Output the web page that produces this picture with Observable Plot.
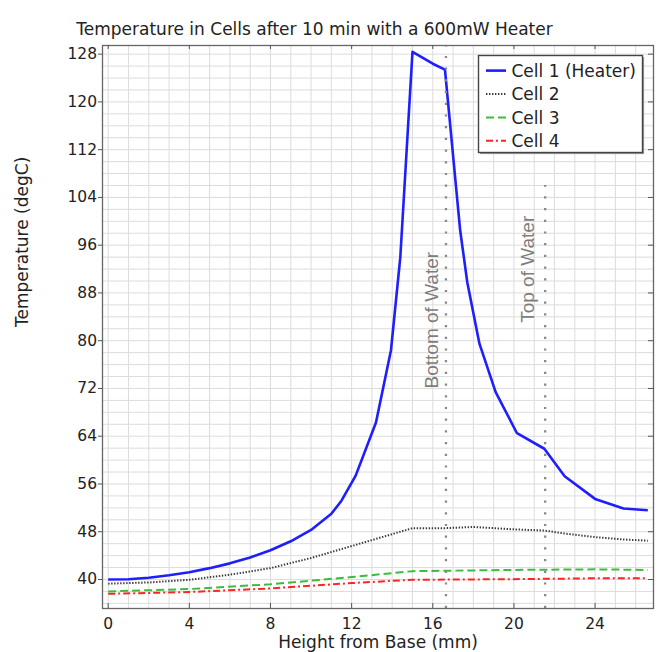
<!DOCTYPE html>
<html>
<head>
<meta charset="utf-8">
<script src="https://cdn.jsdelivr.net/npm/d3@7"></script>
<script src="https://cdn.jsdelivr.net/npm/@observablehq/plot@0.6"></script>
<style>
  body { margin: 0; background: #fff; }
  #chart { position: relative; width: 658px; height: 652px; }
</style>
</head>
<body>
<div id="chart"></div>
<script>
// ---- text ----
const title = "Temperature in Cells after 10 min with a 600mW Heater";
const xLabel = "Height from Base (mm)";
const yLabel = "Temperature (degC)";
const seriesNames = ["Cell 1 (Heater)", "Cell 2", "Cell 3", "Cell 4"];

// ---- data ----
const xCell1 = [0, 1, 2, 3, 4, 5, 6, 7, 8, 9, 10, 11, 11.5, 12.2, 13.2, 13.94, 14.4, 15, 16, 16.6, 17.35, 17.7, 18.3, 19.1, 20.15, 21.5, 22.5, 24, 25.4, 26.6];
const yCell1 = [40.0, 40.05, 40.3, 40.7, 41.2, 41.9, 42.7, 43.7, 44.9, 46.4, 48.3, 51.0, 53.2, 57.4, 66.3, 78.4, 94.0, 128.4, 126.4, 125.4, 98.5, 89.8, 79.5, 71.4, 64.5, 61.9, 57.3, 53.5, 51.9, 51.6];

const xCell2 = [0, 2, 4, 6, 8, 10, 12, 14, 15, 16.6, 18, 20, 21.5, 22.5, 24, 25.4, 26.6];
const yCell2 = [39.3, 39.5, 39.95, 40.8, 41.9, 43.6, 45.6, 47.6, 48.6, 48.6, 48.8, 48.4, 48.2, 47.7, 47.1, 46.7, 46.5];

const xCell3 = [0, 4, 8, 12, 15, 20, 24, 26.6];
const yCell3 = [38.0, 38.4, 39.2, 40.4, 41.4, 41.6, 41.7, 41.6];

const xCell4 = [0, 4, 8, 12, 15, 20, 24, 26.6];
const yCell4 = [37.6, 37.9, 38.5, 39.4, 39.95, 40.05, 40.2, 40.2];

// reference lines
const markerX = [16.65, 21.54];
const markerLabels = ["Bottom of Water", "Top of Water"];
const markerTop = [129.45, 106];
const markerTextStart = [72, 83];

// ticks
const xTicks = [0, 4, 8, 12, 16, 20, 24];
const yTicks = [40, 48, 56, 64, 72, 80, 88, 96, 104, 112, 120, 128];
const xGrid = d3.range(0, 27, 1);
const yGrid = d3.range(36, 130, 2);

const xDomain = [-0.28, 26.88];
const yDomain = [35.14, 129.45];

// ---- styles ----
const colors = ["#1e1eff", "#3a3a3a", "#3cbc3c", "#ff2424"];
const dashes = [null, "1.4,1.6", "8,4", "7,3,2,3"];
const widths = [2.6, 2, 2, 2];

const toRows = (xs, ys) => xs.map((x, i) => ({x, y: ys[i]}));
const series = [toRows(xCell1, yCell1), toRows(xCell2, yCell2), toRows(xCell3, yCell3), toRows(xCell4, yCell4)];
const markers = markerX.map((x, i) => ({x, top: markerTop[i], label: markerLabels[i], start: markerTextStart[i]}));

const W = 658, H = 652, ML = 102, MR = 5, MT = 45, MB = 44;
const FW = W - ML - MR, FH = H - MT - MB;
const font = "DejaVu Sans";

const lineMarks = [3, 2, 1, 0].map(k => Plot.line(series[k], {
  x: "x", y: "y", stroke: colors[k], strokeWidth: widths[k],
  strokeDasharray: dashes[k] || undefined, strokeLinejoin: "round", strokeLinecap: "butt"
}));

const svg = Plot.plot({
  width: W, height: H,
  marginLeft: ML, marginRight: MR, marginTop: MT, marginBottom: MB,
  style: {fontFamily: font, fontSize: "15.5px", color: "#222", background: "#fff", overflow: "visible"},
  x: {domain: xDomain},
  y: {domain: yDomain},
  marks: [
    Plot.gridX(xGrid, {stroke: "#dcdcdc", strokeOpacity: 1}),
    Plot.gridY(yGrid, {stroke: "#dcdcdc", strokeOpacity: 1}),
    ...lineMarks,
    Plot.ruleX(markers, {x: "x", y1: () => yDomain[0], y2: "top", stroke: "#888", strokeWidth: 2.3, strokeDasharray: "2.2,9.5"}),
    Plot.text(markers.slice(0, 1), {x: "x", y: "start", text: "label", rotate: -90, textAnchor: "start", lineAnchor: "bottom", dx: -7.6, fontFamily: "Liberation Sans", fontSize: 19, fill: "#7d7d7d"}),
    Plot.text(markers.slice(1), {x: "x", y: "start", text: "label", rotate: -90, textAnchor: "start", lineAnchor: "bottom", dx: -11, fontFamily: "Liberation Sans", fontSize: 19, fill: "#7d7d7d"}),
    Plot.frame({stroke: "#666", strokeWidth: 1.3}),
    Plot.ruleX(xTicks, {insetTop: FH - 5, stroke: "#555"}),
    Plot.ruleX(xTicks, {insetBottom: FH - 4, stroke: "#555"}),
    Plot.ruleY(yTicks, {insetLeft: FW - 5, stroke: "#555"}),
    Plot.axisY(yTicks, {tickSize: 4, tickPadding: 1.5, label: null, stroke: "#555", fill: "#222"}),
    Plot.axisX(xTicks, {tickSize: 0, tickPadding: 9, label: null, fill: "#222"}),
    Plot.text([xLabel], {frameAnchor: "bottom", dy: 34, lineAnchor: "middle", fontSize: 17, fill: "#222"}),
    Plot.text([yLabel], {frameAnchor: "left", dx: -80, rotate: -90, lineAnchor: "middle", fontSize: 17, fill: "#222"}),
    Plot.text([title], {frameAnchor: "top-left", dx: 314 - ML, dy: -15.5, textAnchor: "middle", lineAnchor: "middle", fontSize: 17, fill: "#222"})
  ]
});

// ---- inset legend ----
const s = d3.select(svg);
const lg = s.append("g").attr("font-family", font).attr("font-size", 17).attr("text-anchor", "start");
const bx = 478.5, by = 55.5, bw = 164, bh = 97;
lg.append("rect").attr("x", bx + 1.6).attr("y", by + 1.6).attr("width", bw).attr("height", bh).attr("fill", "#9a9a9a");
lg.append("rect").attr("x", bx).attr("y", by).attr("width", bw).attr("height", bh).attr("fill", "#fff").attr("stroke", "#444").attr("stroke-width", 1.4);
seriesNames.forEach((name, i) => {
  const cy = 70.6 + i * 23.4;
  lg.append("line").attr("x1", 486).attr("x2", 506).attr("y1", cy).attr("y2", cy)
    .attr("stroke", colors[i]).attr("stroke-width", widths[i])
    .attr("stroke-dasharray", dashes[i]);
  lg.append("text").attr("x", 511.5).attr("y", cy).attr("dy", "0.36em")
    .attr("text-anchor", "start").style("text-anchor", "start").attr("fill", "#222").text(name);
});

document.getElementById("chart").appendChild(svg);
</script>
</body>
</html>
